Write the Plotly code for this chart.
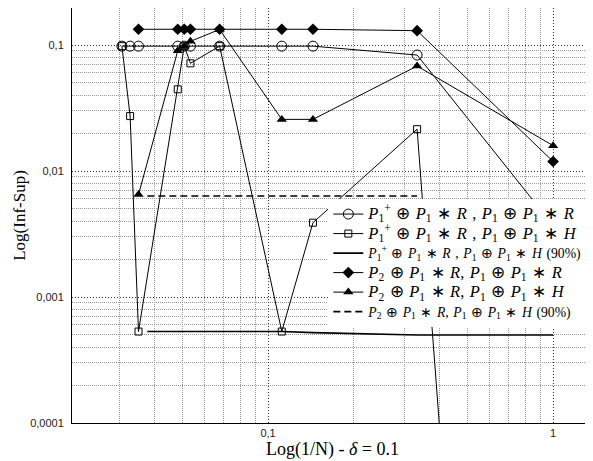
import plotly.graph_objects as go

# ---- data ----
x_all = [0.0307, 0.0328, 0.0351, 0.0482, 0.0508, 0.0534, 0.0676, 0.1117, 0.1437, 0.3333, 1.0]
x_p2 = [0.0351, 0.0482, 0.0508, 0.0534, 0.0676, 0.1117, 0.1437, 0.3333, 1.0]
x_90 = [0.0377, 0.1117, 0.1437, 0.3333, 1.0]
x_90_dash = [0.0377, 0.1117, 0.1437, 0.3333]

y_circle = [0.098, 0.098, 0.098, 0.098, 0.098, 0.098, 0.098, 0.098, 0.098, 0.0833, 0.0037]
y_square = [0.098, 0.0273, 0.000532, 0.0445, 0.098, 0.0716, 0.098, 0.000532, 0.00389, 0.0215, 1e-16]
y_solid90 = [0.000532, 0.000532, 0.000522, 0.000499, 0.000499]
y_diamond = [0.1334, 0.1334, 0.1334, 0.1334, 0.1334, 0.1334, 0.1334, 0.130, 0.0119]
y_triangle = [0.0065, 0.0901, 0.098, 0.107, 0.133, 0.0257, 0.0257, 0.0681, 0.0159]
y_dash90 = [0.00634, 0.00634, 0.00634, 0.00634]

S = "\u2004"
OP = S + "⊕" + S
ST = S + "∗" + S
P = "<i>P</i>"
P1 = P + "<sub>1</sub>"
P1p = P + "<sub>1</sub><sup>+</sup>"
P2 = P + "<sub>2</sub>"


def big(t):
    return "<span style='font-size:16.5px'>" + t + "</span>"


def small(t):
    return "<span style='font-size:13.7px'>" + t + "</span>"


names = [
    big(P1p + OP + P1 + ST + "<i>R</i>" + S + "," + S + P1 + OP + P1 + ST + "<i>R</i>"),
    big(P1p + OP + P1 + ST + "<i>R</i>" + S + "," + S + P1 + OP + P1 + ST + "<i>H</i>"),
    small(P1p + OP + P1 + ST + "<i>R</i>" + S + "," + S + P1 + OP + P1 + ST + "<i>H</i>" + S + "(90%)"),
    big(P2 + OP + P1 + ST + "<i>R</i>," + S + P1 + OP + P1 + ST + "<i>R</i>"),
    big(P2 + OP + P1 + ST + "<i>R</i>," + S + P1 + OP + P1 + ST + "<i>H</i>"),
    small(P2 + OP + P1 + ST + "<i>R</i>," + S + P1 + OP + P1 + ST + "<i>H</i>" + S + "(90%)"),
]

y_tickvals = [0.0001, 0.001, 0.01, 0.1]
y_ticktext = ["0,0001", "0,001", "0,01", "0,1"]
x_tickvals = [0.1, 1]
x_ticktext = ["0,1", "1"]

# minor grid positions (2..9 per decade)
x_minor = [m * 10 ** e for e in (-2, -1, 0) for m in range(2, 10)]
y_minor = [m * 10 ** e for e in (-4, -3, -2, -1) for m in range(2, 10)]

fig = go.Figure()
fig.add_trace(go.Scatter(x=x_all, y=y_circle, name=names[0], mode="lines+markers",
                         line=dict(color="black", width=1),
                         marker=dict(symbol="circle-open", size=10, color="black", line=dict(width=1))))
fig.add_trace(go.Scatter(x=x_all, y=y_square, name=names[1], mode="lines+markers",
                         line=dict(color="black", width=1),
                         marker=dict(symbol="square-open", size=7, color="black", line=dict(width=1))))
fig.add_trace(go.Scatter(x=x_90, y=y_solid90, name=names[2], mode="lines",
                         line=dict(color="black", width=1.6)))
fig.add_trace(go.Scatter(x=x_p2, y=y_diamond, name=names[3], mode="lines+markers",
                         line=dict(color="black", width=1),
                         marker=dict(symbol="diamond", size=9, color="black")))
fig.add_trace(go.Scatter(x=x_p2, y=y_triangle, name=names[4], mode="lines+markers",
                         line=dict(color="black", width=1),
                         marker=dict(symbol="triangle-up", size=9, color="black")))
fig.add_trace(go.Scatter(x=x_90_dash, y=y_dash90, name=names[5], mode="lines",
                         line=dict(color="black", width=1.6, dash="7px,4px")))

# the page body adds an 8px offset, so the figure is sized/margined to compensate
fig.update_layout(
    width=585, height=453,
    margin=dict(l=64, r=0, t=0, b=38, autoexpand=False),
    plot_bgcolor="white", paper_bgcolor="white",
    showlegend=True,
    legend=dict(x=0.492, y=0.539, xanchor="left", yanchor="top",
                bgcolor="white", borderwidth=0,
                font=dict(family="Liberation Serif", size=12.7, color="black"),
                tracegroupgap=0, itemwidth=30),
)
fig.update_xaxes(
    type="log", range=[-1.688, 0.140],
    tickmode="array", tickvals=x_tickvals, ticktext=x_ticktext,
    tickfont=dict(family="Liberation Sans", size=11, color="#222"),
    showgrid=True, gridcolor="#333", griddash="1px,2px", gridwidth=1,
    minor=dict(tickmode="array", tickvals=x_minor, showgrid=True,
               gridcolor="#999", griddash="1px,1px", gridwidth=1),
    showline=True, linecolor="black", linewidth=1, mirror=True,
    ticks="", zeroline=False, ticklabelstandoff=0,
    title=dict(text="Log(1/N) - <i>δ</i> = 0.1", standoff=3,
               font=dict(family="Liberation Serif", size=18, color="black")),
)
fig.update_yaxes(
    type="log", range=[-4, -0.706],
    tickmode="array", tickvals=y_tickvals, ticktext=y_ticktext,
    tickfont=dict(family="Liberation Sans", size=11, color="#222"),
    showgrid=True, gridcolor="#333", griddash="1px,2px", gridwidth=1,
    minor=dict(tickmode="array", tickvals=y_minor, showgrid=True,
               gridcolor="#999", griddash="1px,1px", gridwidth=1),
    showline=True, linecolor="black", linewidth=1, mirror=False,
    ticks="", zeroline=False, ticklabelstandoff=5,
    title=dict(text="Log(Inf-Sup)", standoff=0,
               font=dict(family="Liberation Serif", size=17, color="black")),
)

fig.write_html("out.html")
